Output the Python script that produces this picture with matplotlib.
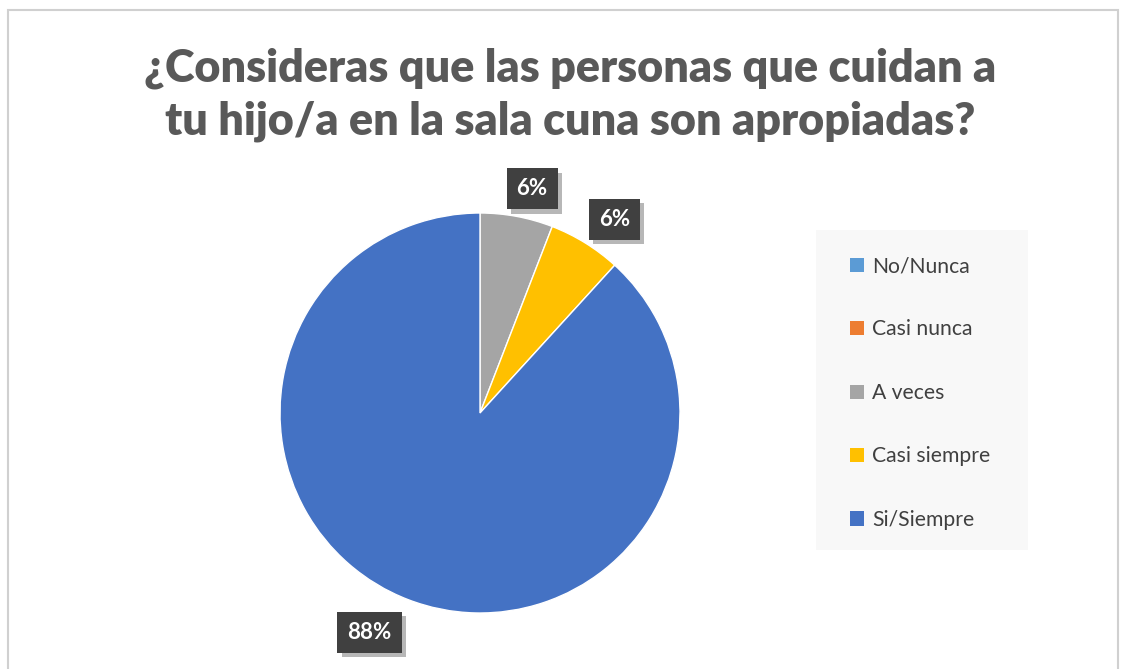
import numpy as np
import matplotlib.pyplot as plt
import matplotlib.patheffects as pe
from matplotlib.patches import Rectangle, Patch

# survey answers (counts)
categories = ["No/Nunca", "Casi nunca", "A veces", "Casi siempre", "Si/Siempre"]
counts = [0, 0, 1, 1, 15]
colors = ["#5B9BD5", "#ED7D31", "#A5A5A5", "#FFC000", "#4472C4"]
title = "¿Consideras que las personas que cuidan a\ntu hijo/a en la sala cuna son apropiadas?"

W, H = 1129, 669
fig = plt.figure(figsize=(W / 100, H / 100), dpi=100)
fig.patch.set_facecolor("white")

# chart frame
fig.patches.append(Rectangle((8 / W, -0.05), 1110 / W, 1 - 10 / H + 0.05,
                             transform=fig.transFigure, fill=False,
                             edgecolor="#D0D0D0", linewidth=1.5))
# legend background
fig.patches.append(Rectangle((816 / W, 1 - 550 / H), 212 / W, 320 / H,
                             transform=fig.transFigure, facecolor="#F8F8F8",
                             edgecolor="none"))

fig.text(570 / W, 1 - 95 / H, title, ha="center", va="center",
         fontsize=32.3, fontweight="heavy", color="#595959", family="Lato",
         linespacing=1.35)

# pie
cx, cy, r = 480, 413, 200
ax = fig.add_axes([(cx - r) / W, (H - cy - r) / H, 2 * r / W, 2 * r / H])
nz = [(c, col) for c, col in zip(counts, colors) if c > 0]
vals = [c for c, _ in nz]
wedges, texts, autotexts = ax.pie(vals, colors=[col for _, col in nz],
                                  startangle=90, counterclock=False,
                                  autopct="%1.0f%%", pctdistance=1.16,
                                  wedgeprops=dict(linewidth=1, edgecolor="white"))
# label placement tweaks (angle shift in degrees, radius)
tweaks = [(-2.5, 1.15), (-3, 1.18), (-5.5, 1.23)]
for w, t, (da, rr) in zip(wedges, autotexts, tweaks):
    ang = np.deg2rad((w.theta1 + w.theta2) / 2 + da)
    t.set_position((rr * np.cos(ang), rr * np.sin(ang)))
    t.set_color("white")
    t.set_fontweight("bold")
    t.set_fontsize(16)
    t.set_family("Lato")
    t.set_bbox(dict(boxstyle="square,pad=0.45", facecolor="#404040", edgecolor="none"))
    t.get_bbox_patch().set_path_effects([pe.SimplePatchShadow(offset=(3, -3), alpha=0.3),
                                         pe.Normal()])
ax.set_xlim(-1, 1)
ax.set_ylim(-1, 1)
ax.set_aspect("equal")

handles = [Patch(facecolor=c, edgecolor="none") for c in colors]
leg = fig.legend(handles, categories, loc="upper left",
                 bbox_to_anchor=(850 / W, 1 - 256 / H),
                 prop={"family": "Lato", "size": 15.2}, frameon=False,
                 handlelength=0.65, handleheight=0.65, handletextpad=0.4,
                 labelspacing=2.06, borderpad=0, borderaxespad=0)
for t in leg.get_texts():
    t.set_color("#404040")

fig.savefig("out.png", dpi=100)
